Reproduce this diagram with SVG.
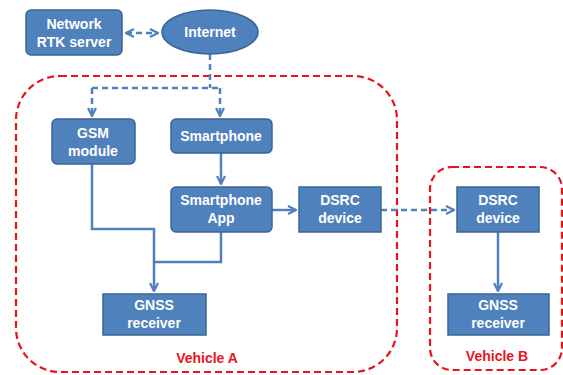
<svg xmlns="http://www.w3.org/2000/svg" width="563" height="375" viewBox="0 0 563 375">
<defs>
<style>
.box{fill:#4F81BD;stroke:#3A6496;stroke-width:1.5}
.t{font-family:"Liberation Sans",Arial,sans-serif;font-weight:bold;font-size:14px;fill:#fff;text-anchor:middle}
.lbl{font-family:"Liberation Sans",Arial,sans-serif;font-weight:bold;font-size:14px;fill:#E8141B;text-anchor:middle}
.veh{fill:none;stroke:#E8141B;stroke-width:2.2;stroke-dasharray:7 4}
.c{fill:none;stroke:#4F81BD;stroke-width:2.5}
.d{stroke-dasharray:6 4}
</style>
<marker id="ah" viewBox="0 0 10 10" refX="9" refY="5" markerWidth="4" markerHeight="4" orient="auto-start-reverse" markerUnits="strokeWidth">
<path d="M1,1 L9,5 L1,9" fill="none" stroke="#4F81BD" stroke-width="2.2"/>
</marker>
</defs>
<rect width="563" height="375" fill="#fff"/>
<g id="vehicleA">
<rect class="veh" x="16" y="76" width="381" height="296" rx="44" ry="44"/>
<text class="lbl" x="207" y="363">Vehicle A</text>
</g>
<g id="vehicleB">
<rect class="veh" x="430" y="167" width="132" height="203" rx="22" ry="22"/>
<text class="lbl" x="497" y="361">Vehicle B</text>
</g>
<g id="connectors">
<path class="c d" d="M126,33 H158" marker-start="url(#ah)" marker-end="url(#ah)"/>
<path class="c d" d="M210,54 V88"/>
<path class="c d" d="M92,88 H220"/>
<path class="c d" d="M92,88 V116" marker-end="url(#ah)"/>
<path class="c d" d="M220,88 V116" marker-end="url(#ah)"/>
<path class="c" d="M221,153 V184" marker-end="url(#ah)"/>
<path class="c" d="M92,164 V229 H154 V291" marker-end="url(#ah)"/>
<path class="c" d="M221,232 V262 H154"/>
<path class="c" d="M272,210 H296" marker-end="url(#ah)"/>
<path class="c d" d="M381,210 H454" marker-end="url(#ah)"/>
<path class="c" d="M498,232 V291" marker-end="url(#ah)"/>
</g>
<g id="rtk">
<rect class="box" x="26" y="10" width="96" height="45" rx="5"/>
<text class="t" x="74" y="29">Network</text>
<text class="t" x="74" y="47">RTK server</text>
</g>
<g id="internet">
<ellipse class="box" cx="210" cy="32" rx="48" ry="22"/>
<text class="t" x="210" y="37">Internet</text>
</g>
<g id="gsm">
<rect class="box" x="52" y="119" width="83" height="45" rx="5"/>
<text class="t" x="93" y="138">GSM</text>
<text class="t" x="93" y="156">module</text>
</g>
<g id="smartphone">
<rect class="box" x="171" y="119" width="101" height="34" rx="5"/>
<text class="t" x="221" y="141">Smartphone</text>
</g>
<g id="app">
<rect class="box" x="171" y="187" width="101" height="45" rx="5"/>
<text class="t" x="221" y="205">Smartphone</text>
<text class="t" x="221" y="223">App</text>
</g>
<g id="dsrcA">
<rect class="box" x="299" y="187" width="82" height="45"/>
<text class="t" x="340" y="205">DSRC</text>
<text class="t" x="340" y="223">device</text>
</g>
<g id="gnssA">
<rect class="box" x="103" y="294" width="103" height="41"/>
<text class="t" x="154" y="310">GNSS</text>
<text class="t" x="154" y="328">receiver</text>
</g>
<g id="dsrcB">
<rect class="box" x="457" y="187" width="82" height="45"/>
<text class="t" x="498" y="205">DSRC</text>
<text class="t" x="498" y="223">device</text>
</g>
<g id="gnssB">
<rect class="box" x="448" y="294" width="101" height="41"/>
<text class="t" x="498" y="310">GNSS</text>
<text class="t" x="498" y="328">receiver</text>
</g>
</svg>
